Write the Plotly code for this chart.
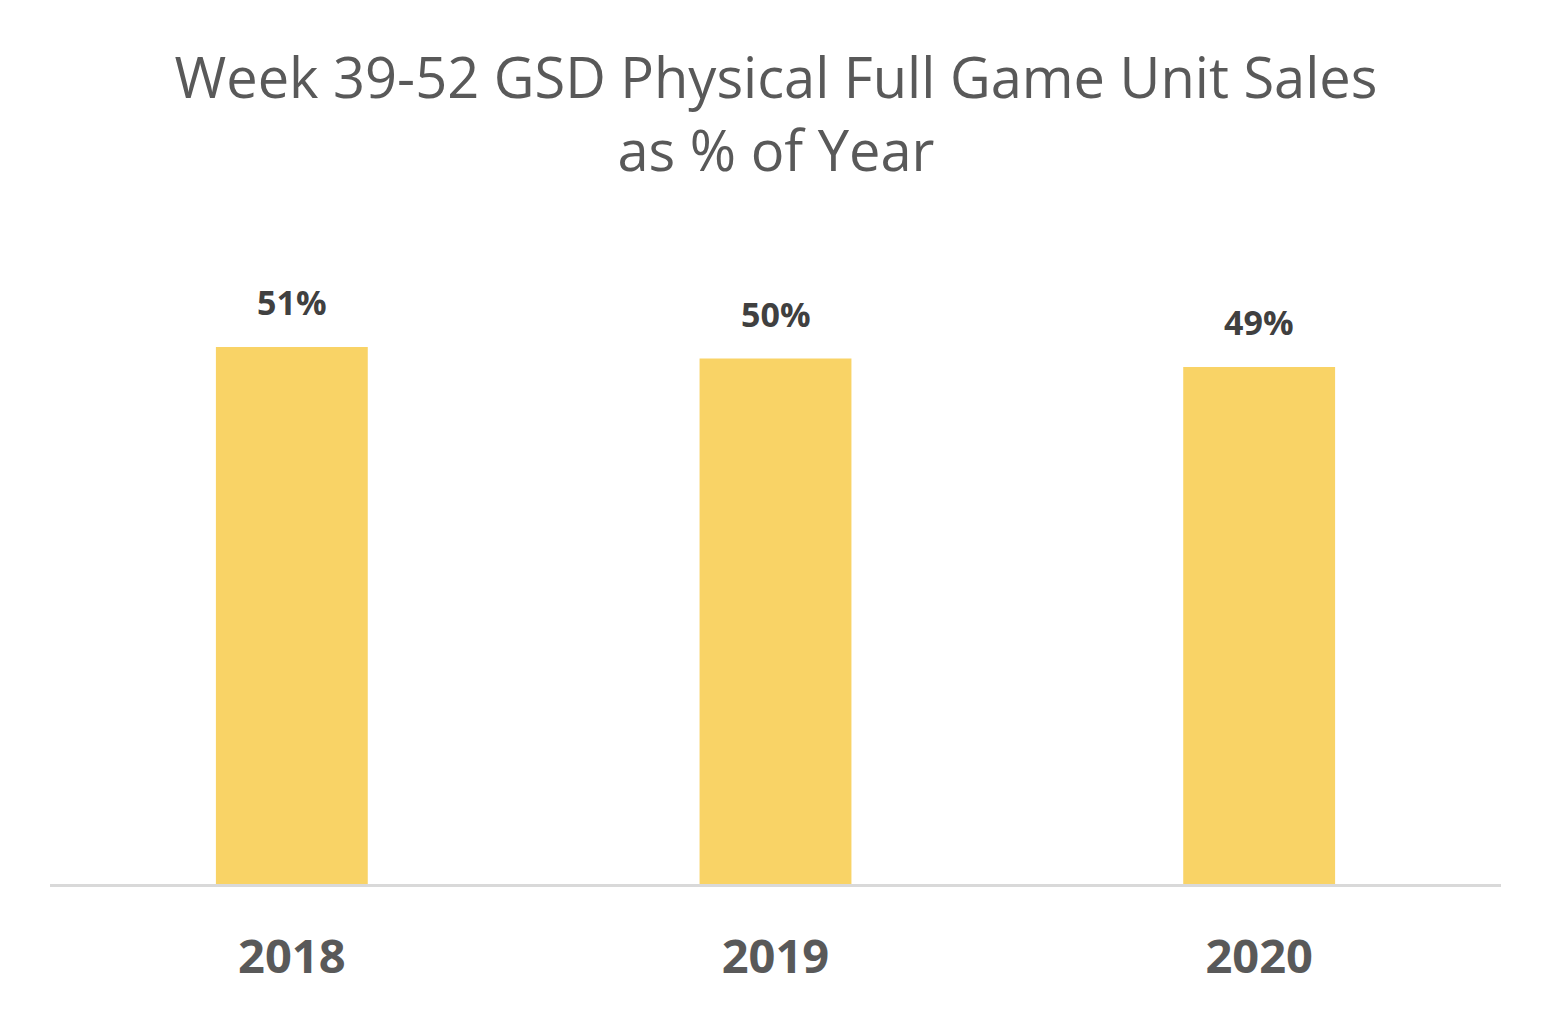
import plotly.graph_objects as go

years = ["2018", "2019", "2020"]
share_pct = [51.0, 49.9, 49.1]
labels = [f"{round(v):.0f}%" for v in share_pct]

fig = go.Figure()
fig.add_trace(go.Bar(
    x=years, y=share_pct,
    marker=dict(color="#F9D366", line=dict(width=0)),
    hoverinfo="skip",
))
for i, (y, t) in enumerate(zip(share_pct, labels)):
    fig.add_annotation(x=i, y=y, text=f"<b>{t}</b>", showarrow=False,
                       yanchor="bottom", yshift=20,
                       font=dict(family="Open Sans", size=34, color="#404040"))

fig.update_layout(
    width=1552, height=1017,
    paper_bgcolor="white", plot_bgcolor="white",
    margin=dict(l=50, r=51, t=220, b=133),
    bargap=0.686,
    showlegend=False,
    title=dict(
        text="Week 39-52 GSD Physical Full Game Unit Sales<br>as % of Year",
        x=0.5, xanchor="center", y=1 - 98/1017, yanchor="top",
        font=dict(family="Open Sans", size=56, color="#595959"),
    ),
    xaxis=dict(
        type="category", range=[-0.5, 2.5],
        showgrid=False, showline=True, linecolor="#D9D9D9", linewidth=2.5,
        ticks="", ticklabelstandoff=30,
        tickfont=dict(family="Open Sans", size=47, color="#595959", weight="bold"),
    ),
    yaxis=dict(range=[0, 63.06], visible=False, showgrid=False, zeroline=False),
)
fig.write_html("out.html")
